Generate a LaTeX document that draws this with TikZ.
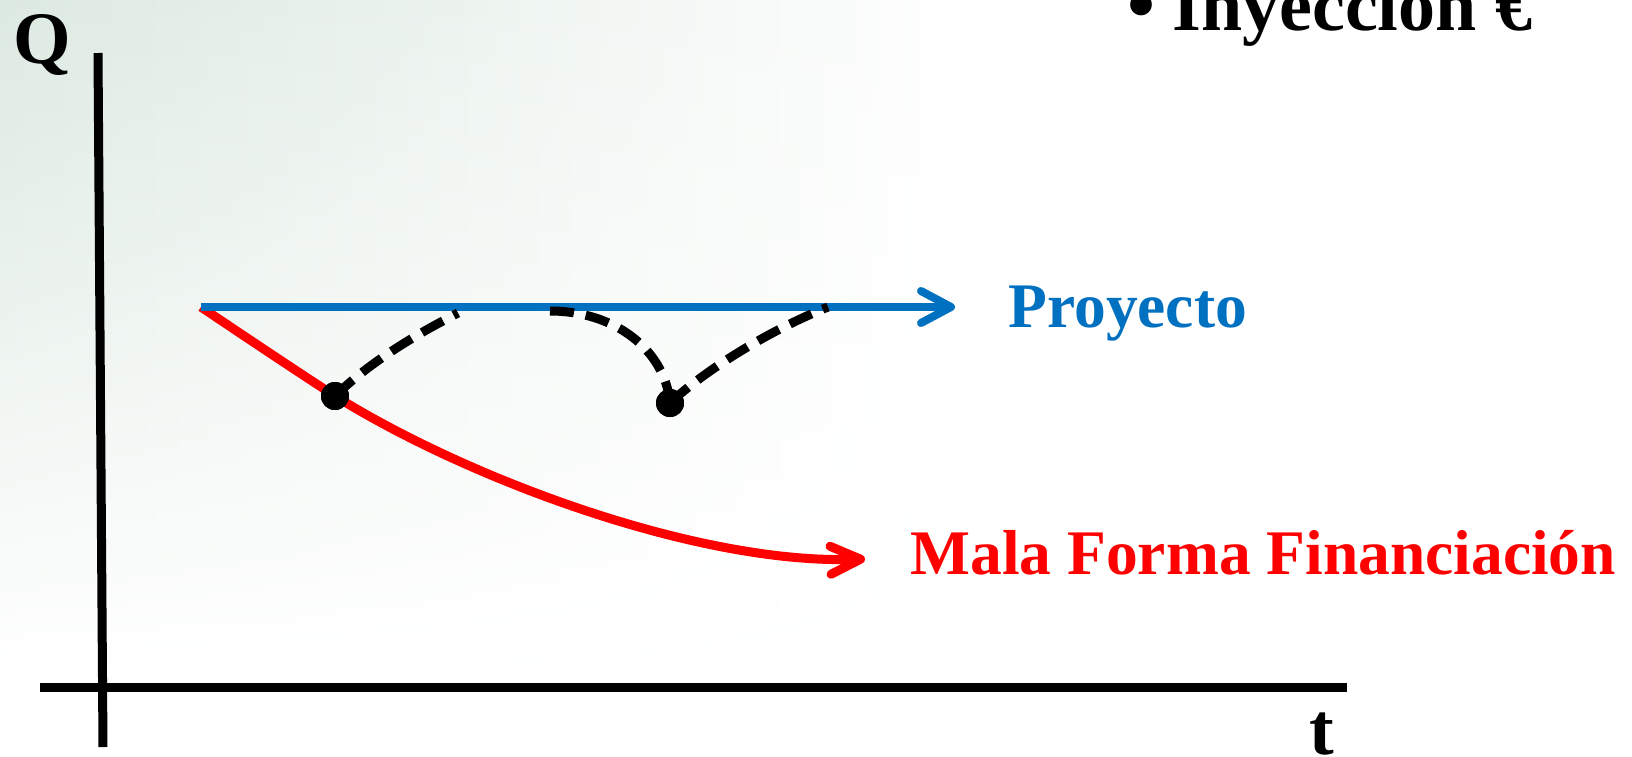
\documentclass[tikz,border=0pt]{standalone}
\usepackage{fontspec}
\setmainfont{Liberation Serif}
\usetikzlibrary{arrows.meta,fadings}
\definecolor{projblue}{RGB}{0,112,192}
\definecolor{bgtint}{RGB}{220,233,225}
\tikzfading[name=fadebottom, top color=transparent!0, middle color=transparent!5, bottom color=transparent!100]
\tikzset{
  axisline/.style={line width=4.5pt, black},
  bluecurve/.style={line width=4pt, projblue, -{Straight Barb[length=15pt,width=16pt,round]}},
  redcurve/.style={line width=4.5pt, red, -{Straight Barb[length=15pt,width=14pt,round]}},
  dashcurve/.style={line width=4.5pt, black, dash pattern=on 12pt off 6pt},
  dotnode/.style={circle, fill=black, inner sep=0pt, minimum size=14pt},
  bigtext/.style={inner sep=0pt, font=\bfseries\fontsize{37}{40}\selectfont},
  labeltext/.style={inner sep=0pt, anchor=base west, font=\bfseries\fontsize{31.75}{34}\selectfont}
}
\begin{document}
\begin{tikzpicture}[x=0.5pt,y=-0.5pt]
\useasboundingbox (0,0) rectangle (1632,756);
% faint background photo tint
\shade[left color=bgtint, middle color=bgtint!85!white, right color=white, draw=none, path fading=fadebottom] (0,0) rectangle (980,680);
% axes
\draw[axisline] (98,53) -- (103,747);
\draw[axisline] (40,687) -- (1347,687);
\node[bigtext, anchor=base west] (Q) at (13,63) {Q};
\node[bigtext, anchor=base west] (t) at (1309,754) {t};
% curves
\coordinate (start) at (201,307);
\coordinate (bluetip) at (955,307);
\draw[redcurve] (start) .. controls (250,340) and (295,370) .. (335,396)
  .. controls (470,480) and (700,565) .. (865,559);
\draw[bluecurve] (start) -- (bluetip);
% dots
\node[dotnode] (d1) at (335,396) {};
\node[dotnode] (d2) at (670,403) {};
\coordinate (b1) at (458,313);
\coordinate (b2) at (550,311);
\coordinate (b3) at (828,307);
\draw[dashcurve] (d1.center) .. controls (370,362) and (415,335) .. (b1);
\draw[dashcurve] (b2) .. controls (615,311) and (665,350) .. (d2.center);
\draw[dashcurve] (d2.center) .. controls (705,370) and (770,330) .. (b3);
\node[dotnode] at (d1) {};
\node[dotnode] at (d2) {};
% labels
\node[labeltext, text=projblue] (proy) at (1008,327) {Proyecto};
\node[labeltext, text=red] (mala) at (910,574) {Mala Forma Financiación};
\node[inner sep=0pt, anchor=base west, font=\bfseries\fontsize{40}{42}\selectfont] (bul) at (1127,31) {•};
\node[bigtext, anchor=base west] (iny) at (1172,30) {Inyección €};
\end{tikzpicture}
\end{document}
